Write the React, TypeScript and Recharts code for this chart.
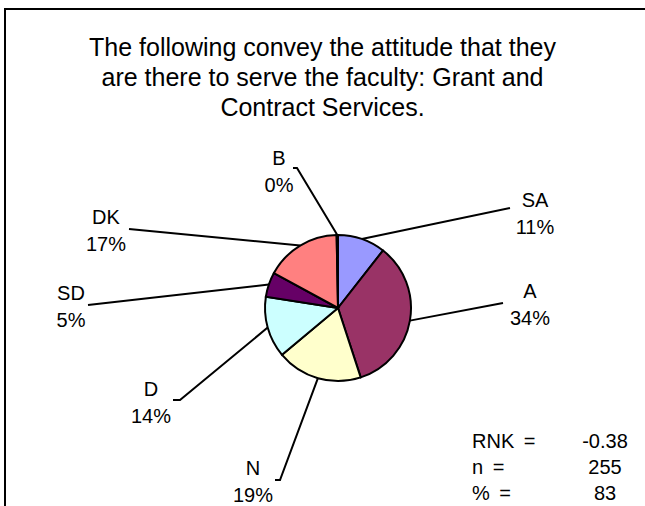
import React from "react";
import { PieChart, Pie, Cell } from "recharts";

const categories = ["SA", "A", "N", "D", "SD", "DK", "B"];
const values = [10.6, 34.5, 19.0, 13.6, 5.5, 16.8, 0.3];
const colors = ["#9999FF", "#993366", "#FFFFCC", "#CCFFFF", "#660066", "#FF8080", "#FFFFFF"];
const titleLines = [
  "The following convey the attitude that they",
  "are there to serve the faculty: Grant and",
  "Contract Services.",
];
const statLabels = ["RNK =", "n =", "% ="];
const statValues = ["-0.38", "255", "83"];

// label layout: text centre offset from pie centre, leader end offset, optional tick
const labelLayout = [
  { tx: 197, ty: -95, lx: 172, ly: -100, tick: 0 },
  { tx: 192, ty: -4, lx: 165, ly: -5, tick: 0 },
  { tx: -85, ty: 173, lx: -58, ly: 172, tick: -5 },
  { tx: -187, ty: 94, lx: -158, ly: 92, tick: -7 },
  { tx: -267, ty: -2, lx: -250, ly: -3, tick: 0 },
  { tx: -232, ty: -78, lx: -209, ly: -79, tick: 0 },
  { tx: -59, ty: -137, lx: -41, ly: -140, tick: -4 },
];

const data = categories.map((c, i) => ({ name: c, value: values[i] }));
const FONT = "'Liberation Sans', Arial, sans-serif";

const renderLabel = (props: any) => {
  const { cx, cy, midAngle, outerRadius, index, percent, name } = props;
  const RAD = Math.PI / 180;
  const sx = cx + outerRadius * Math.cos(-midAngle * RAD);
  const sy = cy + outerRadius * Math.sin(-midAngle * RAD);
  const L = labelLayout[index];
  const ex = cx + L.lx;
  const ey = cy + L.ly;
  const tx = cx + L.tx;
  const ty = cy + L.ty;
  const pts = L.tick
    ? `${sx},${sy} ${ex},${ey} ${ex + L.tick},${ey}`
    : `${sx},${sy} ${ex},${ey}`;
  return (
    <g key={`lbl-${index}`}>
      <polyline points={pts} fill="none" stroke="#000" strokeWidth={2} />
      <text x={tx} y={ty - 13.5} textAnchor="middle" dominantBaseline="central" fontFamily={FONT} fontSize={20} fill="#000">
        {name}
      </text>
      <text x={tx} y={ty + 13.5} textAnchor="middle" dominantBaseline="central" fontFamily={FONT} fontSize={20} fill="#000">
        {`${Math.round(percent * 100)}%`}
      </text>
    </g>
  );
};

export default function App() {
  return (
    <div style={{ position: "absolute", left: 0, top: 0, width: 645, height: 506, background: "#fff", overflow: "hidden" }}>
      <div style={{ position: "absolute", left: 4, top: 8, width: 700, height: 600, borderLeft: "2px solid #000", borderTop: "2px solid #000" }} />
      <div style={{ position: "absolute", left: 0, top: 32, width: 645, textAlign: "center", fontFamily: FONT, fontSize: 25, lineHeight: "30px", color: "#000" }}>
        {titleLines.map((t, i) => (
          <div key={i}>{t}</div>
        ))}
      </div>
      <div style={{ position: "absolute", left: 0, top: 0 }}>
        <PieChart width={645} height={506} margin={{ top: 0, right: 0, bottom: 0, left: 0 }}>
          <Pie
            data={data}
            dataKey="value"
            nameKey="name"
            cx={338}
            cy={308}
            outerRadius={73}
            startAngle={90}
            endAngle={-270}
            stroke="#000"
            strokeWidth={2}
            label={renderLabel}
            labelLine={false}
            isAnimationActive={false}
          >
            {data.map((d, i) => (
              <Cell key={d.name} fill={colors[i]} />
            ))}
          </Pie>
        </PieChart>
      </div>
      {statLabels.map((s, i) => (
        <React.Fragment key={s}>
          <div style={{ position: "absolute", left: 472, top: 428 + i * 26, fontFamily: FONT, fontSize: 20, lineHeight: "26px", wordSpacing: 4 }}>{s}</div>
          <div style={{ position: "absolute", left: 565, width: 80, top: 428 + i * 26, fontFamily: FONT, fontSize: 20, lineHeight: "26px", textAlign: "center" }}>{statValues[i]}</div>
        </React.Fragment>
      ))}
    </div>
  );
}
